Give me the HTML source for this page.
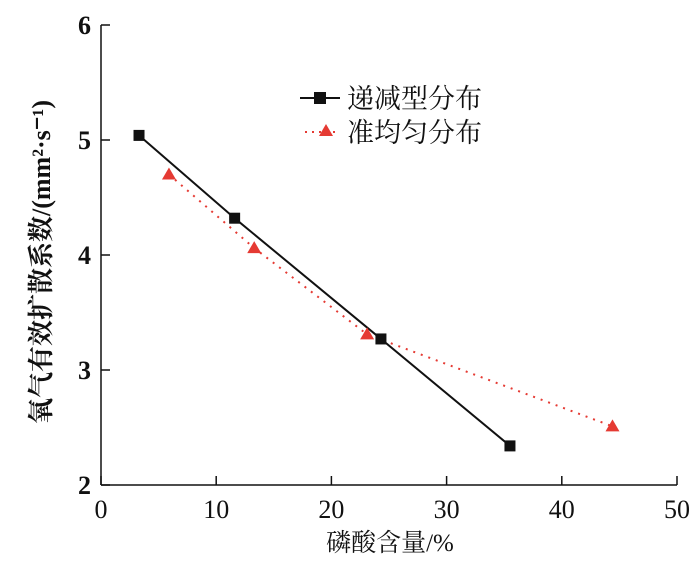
<!DOCTYPE html>
<html><head><meta charset="utf-8"><style>
body{margin:0;background:#fff;}
svg{display:block;font-family:"Liberation Serif","Noto Serif CJK SC",serif;}
</style></head><body>
<svg width="700" height="561" xmlns="http://www.w3.org/2000/svg">
<g id="axes"></g>
<g id="marks"></g>
<g>
 <line x1="300" y1="98" x2="340" y2="98" stroke="#111" stroke-width="2"/>
 <rect x="314" y="92" width="12" height="12" fill="#111"/>
 <text x="347" y="108" font-size="27" fill="#111">递减型分布</text>
 <line x1="305" y1="132" x2="338" y2="132" stroke="#e53a33" stroke-width="2" stroke-dasharray="2,5"/>
 <polygon points="326,124 333,136 319,136" fill="#e53a33"/>
 <text x="347" y="142" font-size="27" fill="#111">准均匀分布</text>
</g>
<text x="390" y="551" font-size="25" text-anchor="middle" fill="#111">磷酸含量/%</text>
<text transform="translate(50,262) rotate(-90)" font-size="26" text-anchor="middle" fill="#111" font-weight="bold">氧气有效扩散系数/(mm²·s⁻¹)</text>
<script>
const xTicks=[0,10,20,30,40,50];
const yTicks=[2,3,4,5,6];
const decX=[3.3,11.6,24.3,35.5];
const decY=[5.04,4.32,3.27,2.34];
const uniX=[5.9,13.3,23.1,44.4];
const uniY=[4.70,4.06,3.31,2.51];
const NS="http://www.w3.org/2000/svg";
const sx=v=>101+(v-0)*(677-101)/50;
const sy=v=>485-(v-2)*(485-25)/4;
function mk(tag,attrs,parent){const e=document.createElementNS(NS,tag);for(const k in attrs)e.setAttribute(k,attrs[k]);parent.appendChild(e);return e;}
const ax=document.getElementById('axes'), mg=document.getElementById('marks');
let l=mk('line',{x1:101,y1:485,x2:677,y2:485,stroke:'#111','stroke-width':1.5},ax);


l=mk('line',{x1:101,y1:25,x2:101,y2:485,stroke:'#111','stroke-width':1.5},ax);


xTicks.forEach(t=>{const x=sx(t);
 mk('line',{x1:x,y1:485,x2:x,y2:476,stroke:'#111','stroke-width':1.5},ax);
 const tx=mk('text',{x:x,y:518,'font-size':26,'text-anchor':'middle',fill:'#111'},ax);tx.textContent=t;
 
 });
yTicks.forEach(t=>{const y=sy(t);
 mk('line',{x1:101,y1:y,x2:110,y2:y,stroke:'#111','stroke-width':1.5},ax);
 const tx=mk('text',{x:91,y:y+9,'font-size':26,'text-anchor':'end',fill:'#111','font-weight':'bold'},ax);tx.textContent=t;
 
 });
let p=mk('polyline',{points:decX.map((x,i)=>sx(x)+','+sy(decY[i])).join(' '),fill:'none',stroke:'#111','stroke-width':2},mg);


p=mk('polyline',{points:uniX.map((x,i)=>sx(x)+','+sy(uniY[i])).join(' '),fill:'none',stroke:'#e53a33','stroke-width':2,'stroke-dasharray':'2,6'},mg);


decX.forEach((x,i)=>{const r=mk('rect',{x:sx(x)-5.5,y:sy(decY[i])-5.5,width:11,height:11,fill:'#111'},mg);
 
 });
uniX.forEach((x,i)=>{const cx=sx(x),cy=sy(uniY[i]);
 const g=mk('polygon',{points:`${cx},${cy-7} ${cx+7},${cy+5} ${cx-7},${cy+5}`,fill:'#e53a33'},mg);
 
 });
</script>
</svg>
</body></html>
